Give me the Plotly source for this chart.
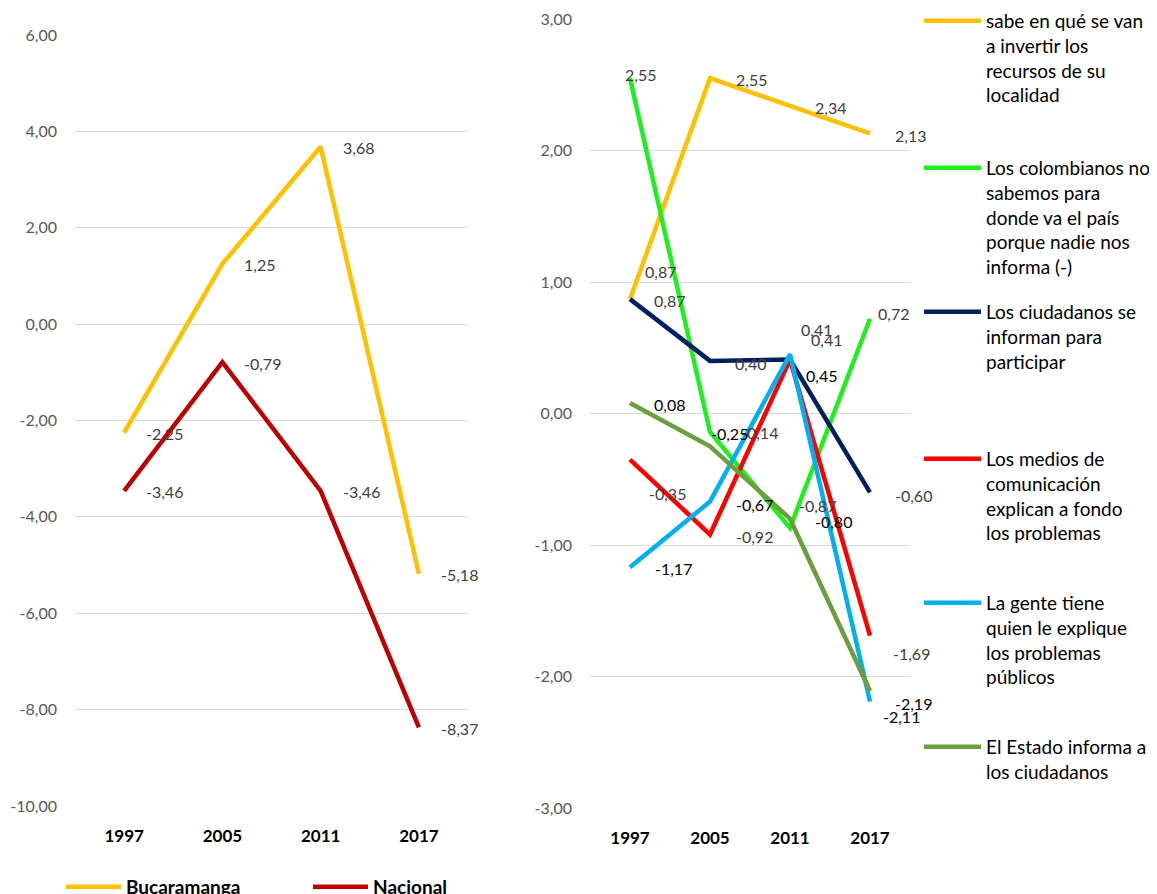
import plotly.graph_objects as go

# ---------------- data ----------------
years = ["1997", "2005", "2011", "2017"]

# left chart
bucaramanga = [-2.25, 1.25, 3.68, -5.18]
nacional = [-3.46, -0.79, -3.46, -8.37]
left_names = ["Bucaramanga", "Nacional"]
left_ticks = [-10, -8, -6, -4, -2, 0, 2, 4, 6]

# right chart
sabe = [0.87, 2.55, 2.34, 2.13]
colombianos = [2.55, -0.14, -0.87, 0.72]
informan = [0.87, 0.40, 0.41, -0.60]
medios = [-0.35, -0.92, 0.41, -1.69]
gente = [-1.17, -0.67, 0.45, -2.19]
estado = [0.08, -0.25, -0.80, -2.11]
right_ticks = [-3, -2, -1, 0, 1, 2, 3]

right_names = [
    ["sabe en qué se van", "a invertir los", "recursos de su", "localidad"],
    ["Los colombianos no", "sabemos para", "donde va el país", "porque nadie nos", "informa (-)"],
    ["Los ciudadanos se", "informan para", "participar"],
    ["Los medios de", "comunicación", "explican a fondo", "los problemas"],
    ["La gente tiene", "quien le explique", "los problemas", "públicos"],
    ["El Estado informa a", "los ciudadanos"],
]

# ---------------- styles / placement ----------------
OFF = 8                      # page body margin
W, H = 1157 - OFF, 894 - OFF
FONT = "Lato"
left_colors = ["#FFC000", "#C00000"]
right_colors = ["#FFC000", "#1EF01E", "#002060", "#FF0000", "#00B0F0", "#6B9E3D"]
right_label_colors = ["#404040", "#404040", "#404040", "#404040", "#000000", "#000000"]

# label offsets in px (dx: text left edge right of point, dy: text centre below point)
right_offsets = [
    [(13, -28), (24, 1), (23, 2), (23, 2)],
    [(-7, -4), (29, 1), (7, -22), (6, -5)],
    [(22, 1), (23, 3), (19, -20), (23, 3)],
    [(17, 34), (24, 2), (9, -30), (21, 18)],
    [(23, 1), (24, 3), (14, 21), (23, 2)],
    [(22, 2), (-1, -13), (23, 3), (11, 26)],
]
legend_symbol_y = [20, 167, 311, 458, 602, 746]


def px_x(px):
    return (px - OFF) / W


def px_y(py):
    return 1 - (py - OFF) / H


def fmt(v):
    return f"{v:.2f}".replace(".", ",")


fig = go.Figure()

# left traces
for name, vals, col in zip(left_names, [bucaramanga, nacional], left_colors):
    fig.add_trace(go.Scatter(x=years, y=vals, mode="lines", name=name,
                             line=dict(color=col, width=4.5),
                             xaxis="x", yaxis="y", legend="legend"))

# right traces
right_series = [sabe, colombianos, informan, medios, gente, estado]
for i, (lines, vals, col) in enumerate(zip(right_names, right_series, right_colors)):
    fig.add_trace(go.Scatter(x=years, y=vals, mode="lines", name="<br>".join(lines),
                             line=dict(color=col, width=4.5),
                             xaxis="x2", yaxis="y2", legend=f"legend{i + 2}"))

axis_x = dict(type="category", range=[-0.5, 3.5], showgrid=False, zeroline=False,
              showline=False, ticks="", ticklabelstandoff=18,
              tickfont=dict(family=FONT, size=17, color="#000000", weight="bold"))
axis_y = dict(showgrid=True, gridcolor="#D9D9D9", gridwidth=1, zeroline=False,
              showline=False, ticks="", ticklabelstandoff=17,
              tickfont=dict(family=FONT, size=16, color="#595959"))

layout = dict(
    width=W, height=H,
    margin=dict(l=0, r=0, t=0, b=0, autoexpand=False),
    paper_bgcolor="white", plot_bgcolor="white",
    font=dict(family=FONT),
    xaxis=dict(axis_x, domain=[px_x(75), px_x(468)], anchor="y"),
    yaxis=dict(axis_y, domain=[px_y(806), px_y(35)], range=[-10, 6],
               tickvals=left_ticks, ticktext=[fmt(t) for t in left_ticks], anchor="x"),
    xaxis2=dict(axis_x, domain=[px_x(590), px_x(910)], anchor="y2"),
    yaxis2=dict(axis_y, domain=[px_y(808), px_y(19)], range=[-3, 3],
                tickvals=right_ticks, ticktext=[fmt(t) for t in right_ticks], anchor="x2"),
    legend=dict(orientation="h", x=px_x(61), y=px_y(868), xanchor="left", yanchor="top",
                itemwidth=55, entrywidth=177, entrywidthmode="pixels",
                font=dict(family=FONT, size=19, color="#000000", weight="bold"),
                bgcolor="rgba(0,0,0,0)"),
    showlegend=True,
)
for i, sy in enumerate(legend_symbol_y):
    layout[f"legend{i + 2}"] = dict(x=px_x(919), y=px_y(sy - 18), xanchor="left", yanchor="top",
                                    valign="top", itemwidth=57,
                                    font=dict(family=FONT, size=19, color="#000000"),
                                    bgcolor="rgba(0,0,0,0)")

fig.update_layout(**layout)

# data labels (category axes take the category index as position)
for vals in [bucaramanga, nacional]:
    for j, v in enumerate(vals):
        fig.add_annotation(x=j, y=v, xref="x", yref="y", text=fmt(v),
                           showarrow=False, xanchor="left", yanchor="middle",
                           xshift=20, yshift=-1,
                           font=dict(family=FONT, size=16, color="#404040"))
for i, vals in enumerate(right_series):
    for j, v in enumerate(vals):
        dx, dy = right_offsets[i][j]
        fig.add_annotation(x=j, y=v, xref="x2", yref="y2", text=fmt(v),
                           showarrow=False, xanchor="left", yanchor="middle",
                           xshift=dx, yshift=-dy,
                           font=dict(family=FONT, size=16, color=right_label_colors[i]))

fig.write_html("out.html")
